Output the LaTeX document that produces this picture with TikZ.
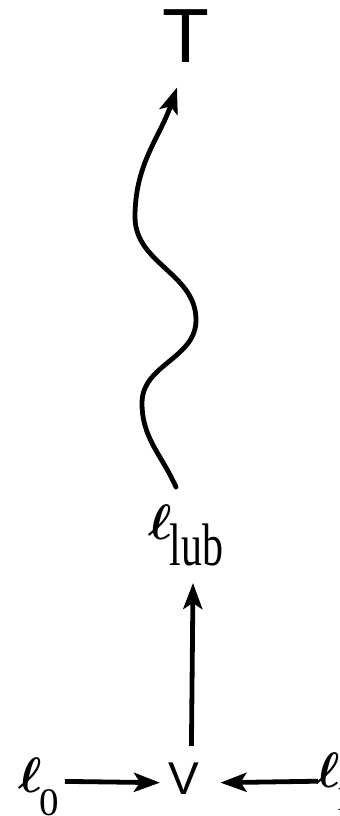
\documentclass[tikz,border=0pt]{standalone}
\usepackage{fontspec}
\usepackage{bm}
\usepackage{tikz}
\usetikzlibrary{arrows.meta}
\setsansfont{Liberation Sans}
\newfontfamily\lubfont[FakeStretch=0.7]{Liberation Serif}
\newfontfamily\idxfont{Liberation Serif}
\newcommand{\ellsym}{{\fontsize{24pt}{24pt}\selectfont$\bm{\ell}$}}

\begin{document}
\begin{tikzpicture}[x=0.5pt,y=0.5pt,
  arr/.style={-{Stealth[length=13pt,width=9.5pt,inset=3pt]},line width=2.4pt},
  lat/.style={inner sep=0pt,font=\sffamily}]
\useasboundingbox (0,0) rectangle (340,816);
\node[lat,anchor=base,font=\sffamily\fontsize{38.4pt}{40pt}\selectfont] (top) at (186,753) {T};
\node[lat,anchor=base west,font=\sffamily\fontsize{23pt}{24pt}\selectfont] (join) at (168,21) {V};
\node[inner sep=0pt,anchor=base west] (lub) at (148,276) {\ellsym\kern-1pt\raisebox{-13pt}{\lubfont\fontsize{30pt}{30pt}\selectfont lub}};
\node[inner sep=0pt,anchor=base west] (l0) at (18,24) {\ellsym\kern-1pt\raisebox{-11.5pt}{\idxfont\fontsize{19.5pt}{20pt}\selectfont 0}};
\node[inner sep=0pt,anchor=base west] (l1) at (316,28) {\ellsym\kern-2pt\raisebox{-11.5pt}{\idxfont\fontsize{19.5pt}{20pt}\selectfont 1}};
% wavy path up to the top
\draw[arr,line cap=round] ([xshift=-5pt,yshift=9pt]lub.north) to[out=114,in=-90] (142,413)
  to[out=90,in=-90] (196,496) to[out=90,in=-90] (135,599) to[out=90,in=-109] ([xshift=-4.5pt,yshift=-12pt]top.south);
\draw[arr] ([xshift=3.85pt,yshift=8.5pt]join.north) -- ([xshift=3.5pt,yshift=-8pt]lub.south);
\draw[arr] ([xshift=2.5pt,yshift=2.5pt]l0.east) -- ([xshift=-4pt,yshift=-1.75pt]join.west);
\draw[arr] ([xshift=1pt,yshift=0.5pt]l1.west) -- ([xshift=10.5pt,yshift=-1.75pt]join.east);
\end{tikzpicture}
\end{document}
